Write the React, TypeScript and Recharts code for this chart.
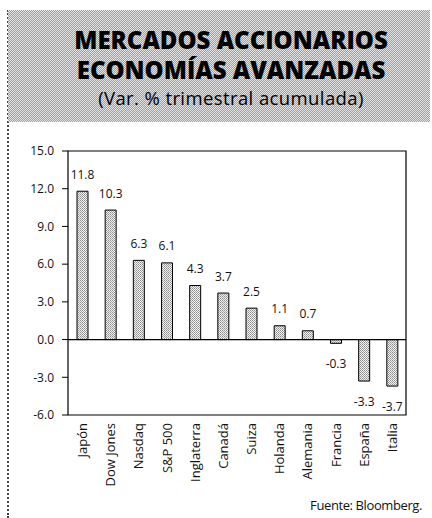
import {
  Bar,
  BarChart,
  LabelList,
  ReferenceArea,
  ReferenceLine,
  XAxis,
  YAxis,
} from "recharts";

const mercados = [
  "Japón",
  "Dow Jones",
  "Nasdaq",
  "S&P 500",
  "Inglaterra",
  "Canadá",
  "Suiza",
  "Holanda",
  "Alemania",
  "Francia",
  "España",
  "Italia",
];
const variacion = [11.8, 10.3, 6.3, 6.1, 4.3, 3.7, 2.5, 1.1, 0.7, -0.3, -3.3, -3.7];
const yTicks = [15, 12, 9, 6, 3, 0, -3, -6];

const data = mercados.map((nombre, i) => ({ nombre, valor: variacion[i] }));

const FONT = "'Open Sans', 'DejaVu Sans', sans-serif";

function CategoryTick(props: any) {
  const { x, y, payload } = props;
  return (
    <text
      x={x}
      y={y}
      transform={`rotate(-90, ${x}, ${y})`}
      textAnchor="end"
      dominantBaseline="central"
      fontFamily={FONT}
      fontSize={13}
      fill="#111"
    >
      {payload.value}
    </text>
  );
}

function ValueLabel(props: any) {
  const { x, y, width, height, value } = props;
  const top = Math.min(y, y + height);
  const bottom = Math.max(y, y + height);
  const cy = value >= 0 ? top - 17 : bottom + 20;
  return (
    <text
      x={x + width / 2}
      y={cy}
      textAnchor="middle"
      dominantBaseline="central"
      fontFamily={FONT}
      fontSize={12}
      fill="#111"
    >
      {value.toFixed(1)}
    </text>
  );
}

const lineStyle = {
  position: "absolute" as const,
  left: 0,
  width: 422,
  paddingLeft: 12,
  textAlign: "center" as const,
  whiteSpace: "nowrap" as const,
};

export default function App() {
  return (
    <div
      style={{
        position: "absolute",
        left: 0,
        top: 0,
        width: 432,
        height: 518,
        background: "#fff",
        overflow: "hidden",
        fontFamily: FONT,
      }}
    >
      <div
        style={{
          position: "absolute",
          left: 7,
          top: 10,
          width: 2,
          height: 508,
          borderLeft: "2px dotted #444",
        }}
      />
      <div
        style={{
          position: "absolute",
          left: 8,
          top: 10,
          width: 422,
          height: 112,
          background:
            "repeating-conic-gradient(#9e9e9e 0% 25%, #e4e4e4 0% 50%) 0 0/2px 2px",
          color: "#000",
        }}
      >
        <div
          style={{
            ...lineStyle,
            top: 18,
            fontWeight: 800,
            fontSize: 24,
            lineHeight: "24px",
          }}
        >
          MERCADOS ACCIONARIOS
        </div>
        <div
          style={{
            ...lineStyle,
            top: 47.5,
            fontWeight: 800,
            fontSize: 24,
            lineHeight: "24px",
          }}
        >
          ECONOMÍAS AVANZADAS
        </div>
        <div
          style={{
            ...lineStyle,
            top: 78,
            fontSize: 18.5,
            lineHeight: "20px",
            letterSpacing: 0.4,
          }}
        >
          (Var. % trimestral acumulada)
        </div>
      </div>

      <div style={{ position: "absolute", left: 0, top: 0 }}>
        <BarChart
          width={432}
          height={518}
          data={data}
          margin={{ top: 151, right: 26, bottom: 0, left: 0 }}
        >
          <defs>
            <pattern
              id="punteado"
              width="2"
              height="2"
              patternUnits="userSpaceOnUse"
            >
              <rect width="2" height="2" fill="#f2f2f2" />
              <rect width="1" height="1" fill="#8a8a8a" />
              <rect x="1" y="1" width="1" height="1" fill="#a8a8a8" />
            </pattern>
          </defs>
          <ReferenceArea
            y1={-6}
            y2={15}
            fill="none"
            stroke="#000"
            strokeWidth={1.2}
            ifOverflow="visible"
          />
          <XAxis
            dataKey="nombre"
            interval={0}
            height={103}
            axisLine={false}
            tickLine={false}
            tick={<CategoryTick />}
          />
          <YAxis
            width={68}
            domain={[-6, 15]}
            ticks={yTicks}
            interval={0}
            axisLine={false}
            tickLine={{ stroke: "#000" }}
            tickSize={6}
            tickMargin={8}
            tickFormatter={(v: number) => v.toFixed(1)}
            tick={{ fontFamily: FONT, fontSize: 12, fill: "#111" }}
          />
          <ReferenceLine y={0} stroke="#000" strokeWidth={1.2} />
          <Bar
            dataKey="valor"
            fill="url(#punteado)"
            stroke="#000"
            strokeWidth={1}
            barSize={11}
            isAnimationActive={false}
          >
            <LabelList dataKey="valor" content={<ValueLabel />} />
          </Bar>
        </BarChart>
      </div>

      <div
        style={{
          position: "absolute",
          right: 10,
          top: 497,
          fontSize: 13,
          lineHeight: "16px",
          color: "#111",
          letterSpacing: -0.4,
        }}
      >
        Fuente: Bloomberg.
      </div>
    </div>
  );
}
